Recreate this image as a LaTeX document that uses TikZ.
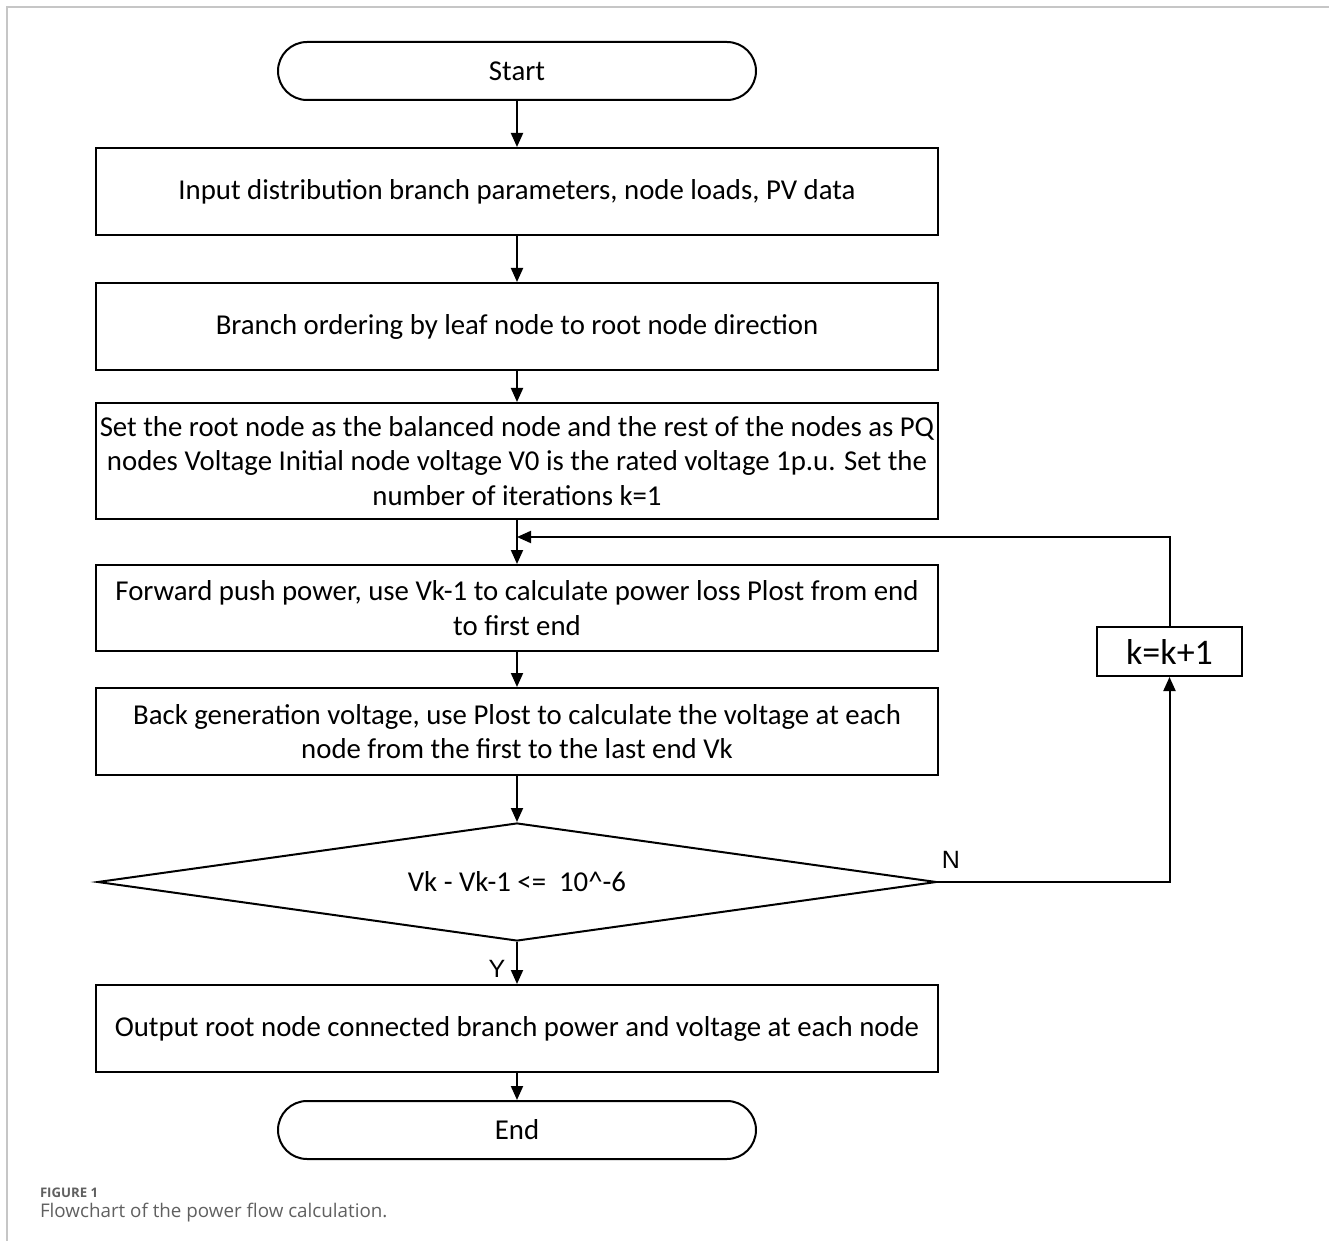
\documentclass[tikz,border=0pt]{standalone}
\usepackage{fontspec}
\setmainfont{Carlito}
\newfontfamily\capfont{Open Sans}
\newfontfamily\arialfont{Liberation Sans}
\usetikzlibrary{positioning,arrows.meta,shapes.geometric,calc}

\begin{document}
\begin{tikzpicture}[
          x=0.5pt, y=-0.5pt,
          line width=1pt,
          txt/.style={font=\fontsize{14.4}{17.25}\selectfont},
          stepbox/.style={draw, txt, align=center, inner sep=2pt,
                          minimum width=421pt, minimum height=43.5pt},
          term/.style={draw, txt, rounded corners=14.5pt,
                       minimum width=239pt, minimum height=29pt},
          decide/.style={draw, diamond, txt, aspect=7.1, inner sep=0pt,
                         minimum width=419.5pt, minimum height=59pt},
          arr/.style={-{Triangle[length=7pt,width=6pt]}},
          yn/.style={font=\arialfont\fontsize{12.5}{14}\selectfont}
      ]
        \useasboundingbox (0,0) rectangle (1329,1241);
        % frame of the figure
        \draw[gray!45, line width=0.75pt] (1329,7) -- (7,7) -- (7,1241);

        \node[term] (start) at (517,71) {Start};
        \node[stepbox] (input) at (517,191.5)
          {Input distribution branch parameters, node loads, PV data};
        \node[stepbox] (order) at (517,326.5)
          {Branch ordering by leaf node to root node direction};
        \node[stepbox, minimum height=58pt] (init) at (517,461)
          {Set the root node as the balanced node and the rest of the nodes as PQ\\
           nodes Voltage Initial node voltage V0 is the rated voltage 1p.u. Set the\\
           number of iterations k=1};
        \node[stepbox, minimum height=43pt] (fwd) at (517,608)
          {Forward push power, use Vk-1 to calculate power loss Plost from end\\
           to first end};
        \node[stepbox] (back) at (517,731.5)
          {Back generation voltage, use Plost to calculate the voltage at each\\
           node from the first to the last end Vk};
        \node[decide] (check) at (517,882) {Vk - Vk-1 <=\ \ 10\^{}-6};
        \node[stepbox] (output) at (517,1028.5)
          {Output root node connected branch power and voltage at each node};
        \node[term] (stop) at (517,1130) {End};
        \node[draw, font=\fontsize{18}{20}\selectfont, inner sep=0pt,
              minimum width=72.5pt, minimum height=24.5pt] (incr)
          at (1169.5,651.5) {k=k+1};
        \coordinate (join) at (517,537);

        \draw[arr] (start) -- (input);
        \draw[arr] (input) -- (order);
        \draw[arr] (order) -- (init);
        \draw[arr] (init) -- (fwd);
        \draw[arr] (fwd) -- (back);
        \draw[arr] (back) -- (check);
        \draw[arr] (check) -- (output);
        \draw[arr] (output) -- (stop);
        \draw[arr] (check.east) -| (incr.south);
        \draw[arr] (incr.north) |- (join);

        \node[yn] (no) at (951,860) {N};
        \node[yn] (yes) at (497,969) {Y};

        % caption
        \node[anchor=west, text=gray!75!black, inner sep=0pt,
              font=\capfont\fontsize{6.6}{8}\selectfont\bfseries] (fignum)
          at (39,1193) {FIGURE 1};
        \node[anchor=west, text=gray!75!black, inner sep=0pt,
              font=\capfont\fontsize{9.4}{11}\selectfont] (figcap)
          at (39,1213) {Flowchart of the power flow calculation.};
      \end{tikzpicture}
\end{document}
